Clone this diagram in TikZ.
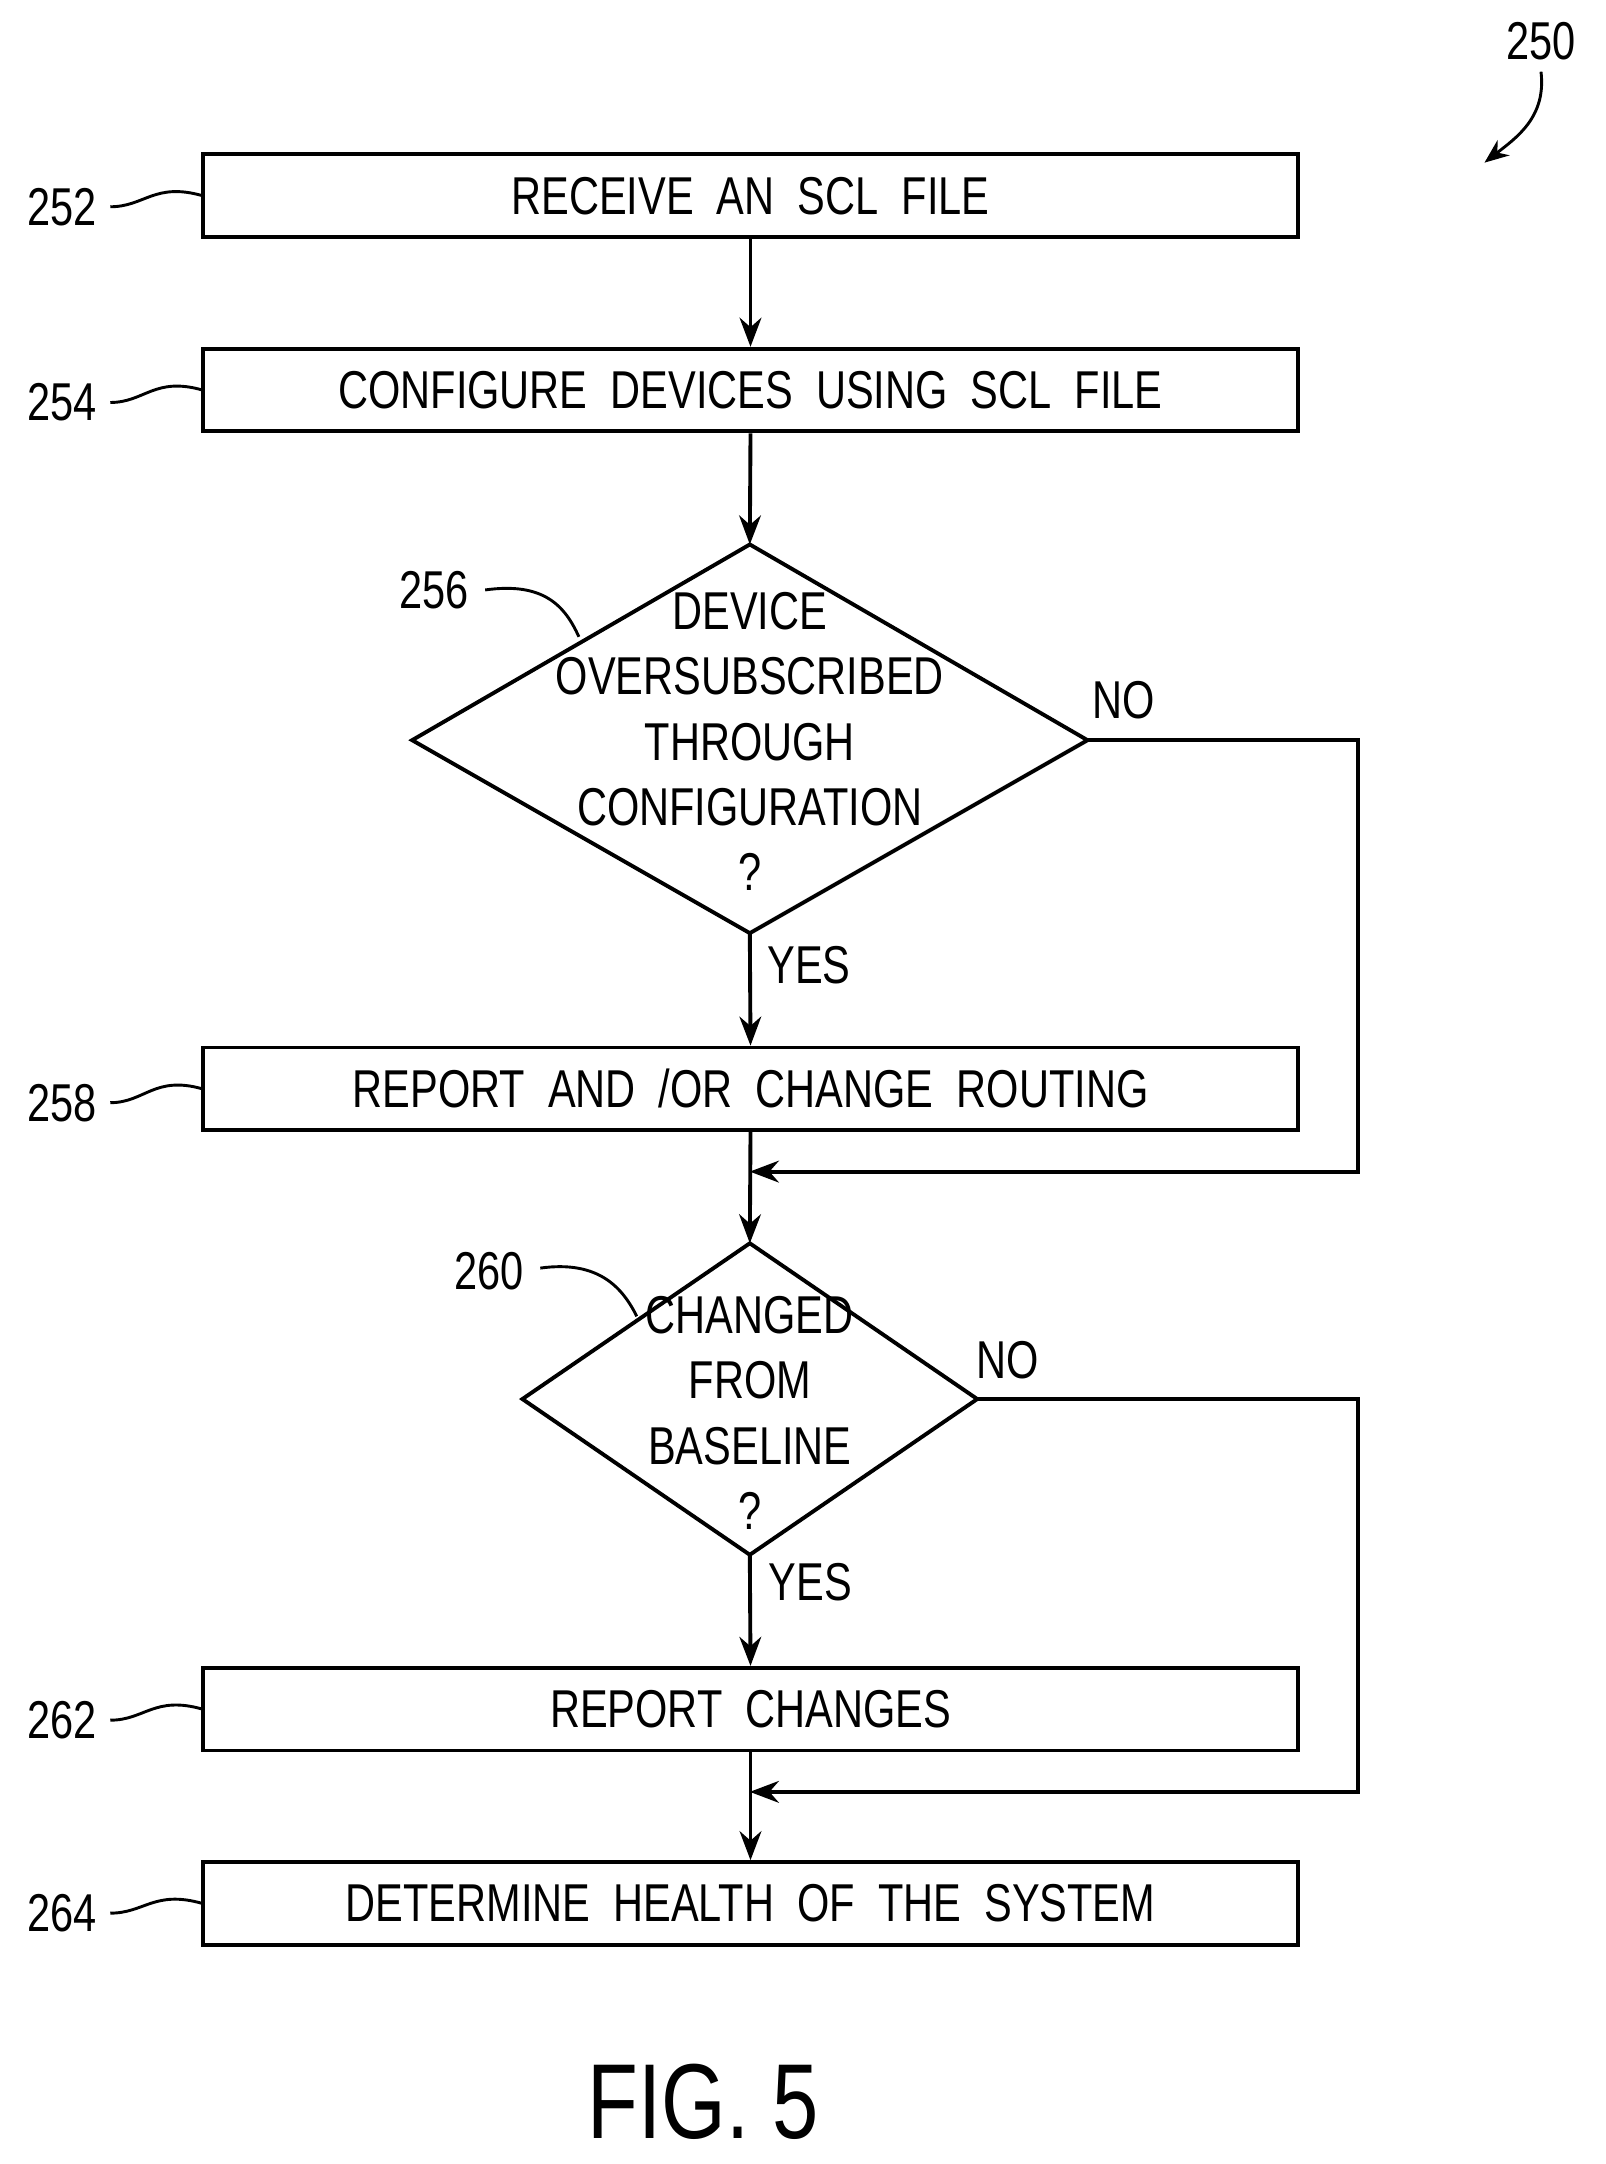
\documentclass[tikz,border=0pt]{standalone}
\usepackage{fontspec}
\setmainfont{Liberation Sans}[FakeStretch=0.78]
\usetikzlibrary{arrows.meta}
\begin{document}
\begin{tikzpicture}[x=0.02cm,y=-0.02cm,
  box/.style={draw,line width=1.6pt,minimum width=795*0.02cm,minimum height=60*0.02cm,font=\fontsize{22}{24}\selectfont,inner sep=0},
  txt/.style={font=\fontsize{22}{27}\selectfont,align=center,inner sep=0},
  lbl/.style={font=\fontsize{22}{24}\selectfont,inner sep=0},
  ln/.style={line width=1.6pt},
  arr/.style={ln,-{Stealth[length=12pt,width=9pt]}}]
\useasboundingbox (0,0) rectangle (1165,1570);
\node[box] (b252) at (544.5,142) {RECEIVE\ \ AN\ \ SCL\ \ FILE};
\node[box] (b254) at (544.5,283) {CONFIGURE\ \ DEVICES\ \ USING\ \ SCL\ \ FILE};
\node[box] (b258) at (544.5,790) {REPORT\ \ AND\ \ /OR\ \ CHANGE\ \ ROUTING};
\node[box] (b262) at (544.5,1240) {REPORT\ \ CHANGES};
\node[box] (b264) at (544.5,1381) {DETERMINE\ \ HEALTH\ \ OF\ \ THE\ \ SYSTEM};
% diamond 256
\coordinate (d1t) at (544,395); \coordinate (d1r) at (789,537);
\coordinate (d1b) at (544,677); \coordinate (d1l) at (299,537);
\draw[ln] (d1t)--(d1r)--(d1b)--(d1l)--cycle;
\node[txt] (t256) at (544,538) {DEVICE\\OVERSUBSCRIBED\\THROUGH\\CONFIGURATION\\?};
% diamond 260
\coordinate (d2t) at (544,902); \coordinate (d2r) at (709,1015);
\coordinate (d2b) at (544,1128); \coordinate (d2l) at (379,1015);
\draw[ln] (d2t)--(d2r)--(d2b)--(d2l)--cycle;
\node[txt] (t260) at (544,1025) {CHANGED\\FROM\\BASELINE\\?};
% connectors
\draw[arr] (b252.south) -- (b254.north);
\draw[arr] (b254.south) -- (d1t);
\draw[arr] (d1b) -- (b258.north);
\coordinate (j1) at (544,850); \coordinate (r1) at (985,537); \coordinate (r1b) at (985,850);
\draw[arr] (d1r) -- (r1) -- (r1b) -- (j1);
\draw[arr] (b258.south) -- (d2t);
\draw[arr] (d2b) -- (b262.north);
\coordinate (j2) at (544,1300); \coordinate (r2) at (985,1015); \coordinate (r2b) at (985,1300);
\draw[arr] (d2r) -- (r2) -- (r2b) -- (j2);
\draw[arr] (b262.south) -- (b264.north);
\node[lbl] (no1) at (815,508) {NO};
\node[lbl] (yes1) at (587,700) {YES};
\node[lbl] (no2) at (731,987) {NO};
\node[lbl] (yes2) at (588,1148) {YES};
% reference labels
\foreach \n/\y/\yb in {252/150/142, 254/292/283, 258/800/790, 262/1248/1240, 264/1388/1381}{
  \node[lbl] (l\n) at (45,\y) {\n};
  \draw[ln,line width=1.2pt] (80,\y) .. controls (105,\y) and (112,\yb-10) .. (147,\yb);
}
\node[lbl] (l256) at (315,428) {256};
\draw[ln,line width=1.2pt] (352,428) .. controls (395,422) and (410,440) .. (420,462);
\node[lbl] (l260) at (355,922) {260};
\draw[ln,line width=1.2pt] (392,920) .. controls (435,914) and (452,935) .. (462,955);
\node[lbl] (l250) at (1118,30) {250};
\draw[ln,line width=1.2pt,-{Stealth[length=10pt,width=8pt]}] (1118,52) .. controls (1122,85) and (1100,100) .. (1077,118);
\node[font=\fontsize{44}{48}\selectfont,inner sep=0] (fig) at (510,1525) {FIG. 5};
\end{tikzpicture}
\end{document}
